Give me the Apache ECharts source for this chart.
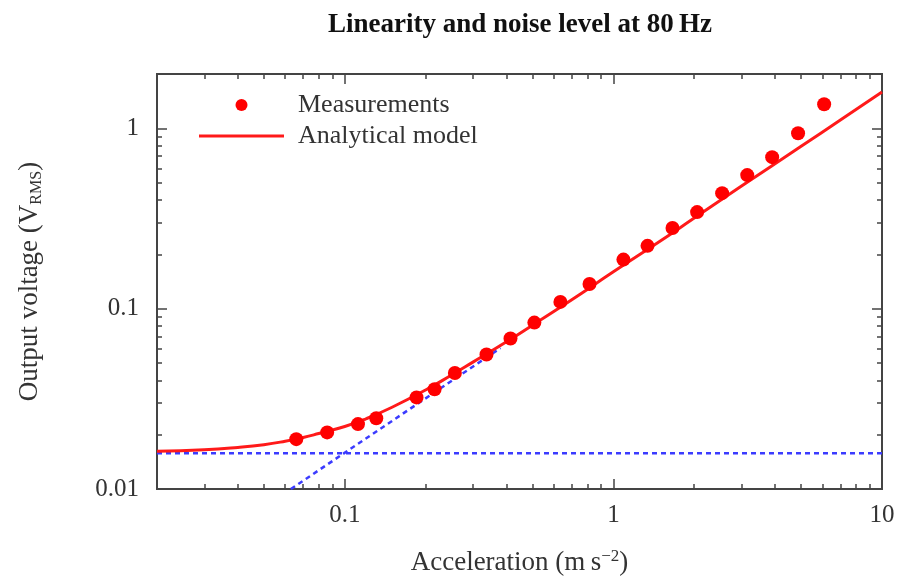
<!DOCTYPE html>
<html>
<head>
<meta charset="utf-8">
<script src="https://cdn.jsdelivr.net/npm/echarts@6/dist/echarts.min.js"></script>
<style>
  html, body { margin: 0; padding: 0; background: #fff; }
  #chart { width: 900px; height: 583px; }
</style>
</head>
<body>
<div id="chart"></div>
<script>
  // measured points (acceleration m/s^2, output voltage V_RMS)
  var measX = [0.066, 0.086, 0.112, 0.131, 0.185, 0.216, 0.257, 0.337, 0.414, 0.508, 0.635, 0.815, 1.09, 1.34, 1.66, 2.05, 2.54, 3.15, 3.9, 4.87, 6.09];
  var measY = [0.0189, 0.0206, 0.0229, 0.0247, 0.0322, 0.0357, 0.044, 0.0557, 0.0683, 0.0837, 0.109, 0.137, 0.187, 0.223, 0.280, 0.343, 0.437, 0.550, 0.692, 0.938, 1.36];

  // analytical model
  var modelX = [0.02, 0.03, 0.04, 0.05, 0.06, 0.07, 0.08, 0.1, 0.12, 0.15, 0.2, 0.25, 0.3, 0.4, 0.5, 0.7, 1, 1.5, 2, 3, 5, 7, 10];
  var modelY = [0.0162, 0.0165, 0.0170, 0.0176, 0.0184, 0.0193, 0.0203, 0.0222, 0.0245, 0.0284, 0.0354, 0.0429, 0.0505, 0.0655, 0.0810, 0.112, 0.160, 0.238, 0.318, 0.478, 0.795, 1.11, 1.59];

  // blue guide lines: noise floor and sensitivity asymptote
  var noiseX = [0.02, 10];
  var noiseY = [0.0158, 0.0158];
  var slopeX = [0.063, 0.38];
  var slopeY = [0.01, 0.0605];

  var xMajor = [0.1, 1, 10];
  var xMinor = [0.03, 0.04, 0.05, 0.06, 0.07, 0.08, 0.09, 0.2, 0.3, 0.4, 0.5, 0.6, 0.7, 0.8, 0.9, 2, 3, 4, 5, 6, 7, 8, 9];
  var yMajor = [0.01, 0.1, 1];
  var yMinor = [0.02, 0.03, 0.04, 0.05, 0.06, 0.07, 0.08, 0.09, 0.2, 0.3, 0.4, 0.5, 0.6, 0.7, 0.8, 0.9, 2];

  function zip(a, b) {
    return a.map(function (v, i) { return [v, b[i]]; });
  }

  var font = '"Liberation Serif", "Times New Roman", serif';
  var frame = { show: true, onZero: false, lineStyle: { color: '#444', width: 2 } };

  function xAx(pos, ticks, len, withLabels) {
    var ax = {
      type: 'log', min: 0.02, max: 10, position: pos,
      axisLine: frame,
      axisTick: { show: true, inside: true, length: len, customValues: ticks, lineStyle: { color: '#444', width: 1.5 } },
      axisLabel: { show: false },
      splitLine: { show: false }
    };
    if (withLabels) {
      ax.axisLabel = {
        show: true, customValues: xMajor, margin: 14,
        fontFamily: font, fontSize: 25, color: '#333',
        formatter: function (v) { return String(+v.toPrecision(3)); }
      };
      ax.name = 'Acceleration (m\u2009s{sup|\u22122})';
      ax.nameLocation = 'middle';
      ax.nameGap = 59;
      ax.nameTextStyle = {
        fontFamily: font, fontSize: 27, color: '#333', lineHeight: 30,
        rich: { sup: { fontFamily: font, fontSize: 17, color: '#333', verticalAlign: 'top', lineHeight: 18 } }
      };
    }
    return ax;
  }

  function yAx(pos, ticks, len, withLabels) {
    var ax = {
      type: 'log', min: 0.01, max: 2, position: pos,
      axisLine: frame,
      axisTick: { show: true, inside: true, length: len, customValues: ticks, lineStyle: { color: '#444', width: 1.5 } },
      axisLabel: { show: false },
      splitLine: { show: false }
    };
    if (withLabels) {
      ax.axisLabel = {
        show: true, customValues: yMajor, margin: 18,
        fontFamily: font, fontSize: 25, color: '#333',
        formatter: function (v) { return String(+v.toPrecision(3)); }
      };
      ax.name = 'Output voltage (V{sub|RMS})';
      ax.nameLocation = 'middle';
      ax.nameGap = 112;
      ax.nameTextStyle = {
        fontFamily: font, fontSize: 27, color: '#333', lineHeight: 30,
        rich: { sub: { fontFamily: font, fontSize: 16, color: '#333', verticalAlign: 'bottom', lineHeight: 16 } }
      };
    }
    return ax;
  }

  var chart = echarts.init(document.getElementById('chart'));
  var option = {
    backgroundColor: '#fff',
    animation: false,
    title: {
      text: 'Linearity and noise level at 80\u2009Hz',
      left: 515, top: 7, textAlign: 'center',
      textStyle: { fontFamily: font, fontWeight: 'bold', fontSize: 27, color: '#111' }
    },
    legend: {
      data: [
        { name: 'Measurements', icon: 'circle' },
        { name: 'Analytical model', icon: 'path://M0,0H85V3H0Z' }
      ],
      orient: 'vertical',
      left: 194, top: 87,
      itemWidth: 85, itemHeight: 12, itemGap: 5,
      textStyle: { fontFamily: font, fontSize: 26, color: '#333', lineHeight: 26, padding: [0, 0, 0, 9] }
    },
    grid: { left: 157, right: 18, top: 74, bottom: 93 },
    xAxis: [
      xAx('bottom', xMajor, 10, true),
      xAx('bottom', xMinor, 5, false),
      xAx('top', xMajor, 10, false),
      xAx('top', xMinor, 5, false)
    ],
    yAxis: [
      yAx('left', yMajor, 10, true),
      yAx('left', yMinor, 5, false),
      yAx('right', yMajor, 10, false),
      yAx('right', yMinor, 5, false)
    ],
    series: [
      {
        name: 'noise', type: 'line', data: zip(noiseX, noiseY),
        symbol: 'none', z: 2,
        lineStyle: { color: '#3b3bff', width: 2.5, type: [5, 4] }
      },
      {
        name: 'asymptote', type: 'line', data: zip(slopeX, slopeY),
        symbol: 'none', z: 2,
        lineStyle: { color: '#3b3bff', width: 2.5, type: [5, 4] }
      },
      {
        name: 'Analytical model', type: 'line', data: zip(modelX, modelY),
        symbol: 'none', smooth: true, z: 3,
        itemStyle: { color: '#ff1a1a' },
        lineStyle: { color: '#ff1a1a', width: 3 }
      },
      {
        name: 'Measurements', type: 'scatter', data: zip(measX, measY),
        symbol: 'circle', symbolSize: 14, z: 4,
        itemStyle: { color: '#ff0000', opacity: 1 }
      }
    ]
  };
  chart.setOption(option);
</script>
</body>
</html>
